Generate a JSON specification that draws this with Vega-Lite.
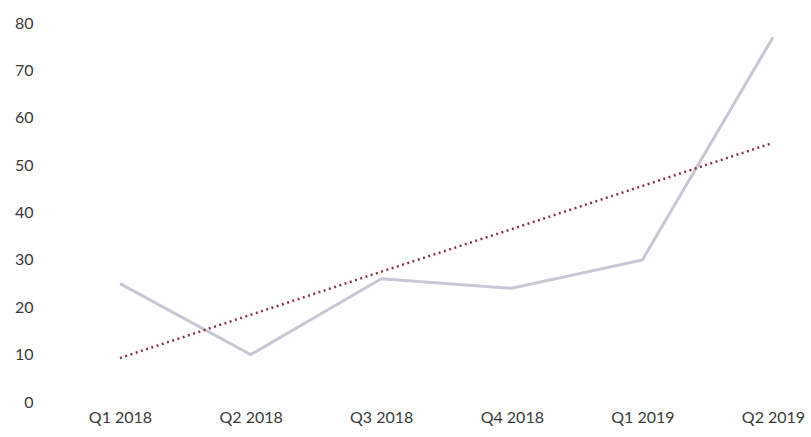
{
  "$schema": "https://vega.github.io/schema/vega-lite/v6.json",
  "width": 653,
  "height": 379,
  "autosize": {"type": "none"},
  "padding": {"left": 120, "top": 23, "right": 38, "bottom": 35},
  "background": "white",
  "config": {"view": {"stroke": null}, "font": "Lato"},
  "data": {
    "values": [
      {"quarter": "Q1 2018", "value": 25, "trend": 9.3},
      {"quarter": "Q2 2018", "value": 10, "trend": 18.4},
      {"quarter": "Q3 2018", "value": 26, "trend": 27.5},
      {"quarter": "Q4 2018", "value": 24, "trend": 36.5},
      {"quarter": "Q1 2019", "value": 30, "trend": 45.6},
      {"quarter": "Q2 2019", "value": 77, "trend": 54.7}
    ]
  },
  "encoding": {
    "x": {
      "field": "quarter",
      "type": "ordinal",
      "sort": null,
      "scale": {"type": "point", "padding": 0},
      "axis": {
        "title": null,
        "domain": false,
        "ticks": false,
        "grid": false,
        "labelAngle": 0,
        "labelFontSize": 16,
        "labelColor": "#3a3a3a",
        "labelPadding": 7,
        "labelBaseline": "top"
      }
    }
  },
  "layer": [
    {
      "mark": {"type": "line", "color": "#c9c6d6", "strokeWidth": 3},
      "encoding": {
        "y": {
          "field": "value",
          "type": "quantitative",
          "scale": {"domain": [0, 80], "nice": false},
          "axis": {
            "title": null,
            "domain": false,
            "ticks": false,
            "grid": false,
            "values": [0, 10, 20, 30, 40, 50, 60, 70, 80],
            "labelFontSize": 16,
            "labelColor": "#3a3a3a",
            "labelPadding": 87
          }
        }
      }
    },
    {
      "mark": {"type": "line", "color": "#8a3848", "strokeWidth": 2.5, "strokeDash": [2, 3.5]},
      "encoding": {
        "y": {"field": "trend", "type": "quantitative"}
      }
    }
  ]
}
